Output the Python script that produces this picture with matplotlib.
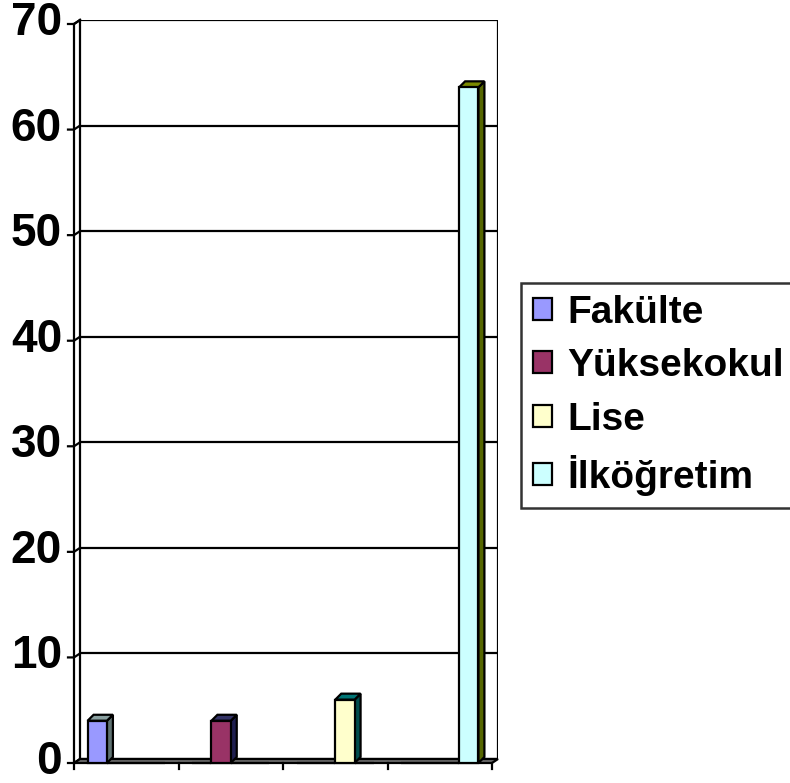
import matplotlib
matplotlib.use("Agg")
import matplotlib.pyplot as plt
from matplotlib.patches import Polygon, Patch

plt.rcParams['font.family'] = ['Liberation Sans', 'DejaVu Sans']

# ---- data ----
series_names = ["Fakülte", "Yüksekokul", "Lise", "İlköğretim"]
fakulte = [4, 0, 0, 0]
yuksekokul = [0, 4, 0, 0]
lise = [0, 0, 6, 0]
ilkogretim = [0, 0, 0, 64]
y_ticks = [0, 10, 20, 30, 40, 50, 60, 70]

series_values = [fakulte, yuksekokul, lise, ilkogretim]
front_colors = ["#9999FF", "#993366", "#FFFFCC", "#CCFFFF"]
top_colors = ["#8AA0A0", "#333366", "#007575", "#7A8A00"]
side_colors = ["#5F7272", "#1F1F50", "#004D4D", "#556600"]

W, H = 790, 783
fig = plt.figure(figsize=(W / 100, H / 100), dpi=100)
# axes = back wall of 3D chart
left_px, right_px, top_px, bot_px = 80, 498, 20, 759
ax = fig.add_axes([left_px / W, 1 - bot_px / H, (right_px - left_px) / W, (bot_px - top_px) / H])
ncat = 4
ymax = 70
ax.set_xlim(0, ncat)
ax.set_ylim(0, ymax)

# pixel -> data unit conversions
px_x = ncat / (right_px - left_px)
px_y = ymax / (bot_px - top_px)
wall_dx, wall_dy = 6 * px_x, 4 * px_y   # depth of walls/floor
bar_dx, bar_dy = 6 * px_x, 6 * px_y     # depth of bars

for s in ax.spines.values():
    s.set_visible(False)
ax.set_xticks([])
ax.set_yticks([])

lw = 1.6
# back wall gridlines
for t in y_ticks:
    ax.plot([0, ncat], [t, t], color="black", lw=lw, solid_capstyle="butt", zorder=1)
# right edge of back wall
ax.plot([ncat, ncat], [0, ymax], color="black", lw=lw, zorder=1)
# left wall
fx, fy = -wall_dx, -wall_dy
ax.plot([0, 0], [0, ymax], color="black", lw=lw, clip_on=False, zorder=1)
ax.plot([fx, fx], [fy, ymax + fy], color="black", lw=lw, clip_on=False, zorder=1)
ax.plot([fx, 0], [ymax + fy, ymax], color="black", lw=lw, clip_on=False, zorder=1)
# ticks + connectors + labels
for t in y_ticks:
    ax.plot([fx - 6 * px_x, fx, 0], [t + fy, t + fy, t], color="black", lw=lw,
            clip_on=False, zorder=1)
    ax.text(fx - 12 * px_x, t + fy + 1 * px_y, str(t), ha="right", va="center",
            fontsize=33, fontweight="bold")
# floor
floor = Polygon([[fx, fy], [ncat + fx, fy], [ncat, 0], [0, 0]], closed=True,
                facecolor="#6E6E6E", edgecolor="black", lw=lw, clip_on=False, zorder=2)
ax.add_patch(floor)
# x ticks at front floor edge
for c in range(ncat + 1):
    ax.plot([c + fx, c + fx], [fy, fy - 6 * px_y], color="black", lw=lw, clip_on=False, zorder=2)

# bars
bw = 0.185
start = 0.13
handles = []
for i, (vals, fc, tc, sc) in enumerate(zip(series_values, front_colors, top_colors, side_colors)):
    for c, v in enumerate(vals):
        if v <= 0:
            continue
        x0 = c + start + i * bw + fx
        x1 = x0 + bw
        y0 = fy
        y1 = fy + v
        # side
        ax.add_patch(Polygon([[x1, y0], [x1 + bar_dx, y0 + bar_dy], [x1 + bar_dx, y1 + bar_dy], [x1, y1]],
                             closed=True, facecolor=sc, edgecolor="black", lw=lw, clip_on=False, zorder=3))
        # top
        ax.add_patch(Polygon([[x0, y1], [x1, y1], [x1 + bar_dx, y1 + bar_dy], [x0 + bar_dx, y1 + bar_dy]],
                             closed=True, facecolor=tc, edgecolor="black", lw=lw, clip_on=False, zorder=3))
    # front faces via bar
    xs = [c + start + i * bw + fx for c in range(ncat)]
    ax.bar(xs, vals, width=bw, bottom=fy, align="edge", color=fc, edgecolor="black",
           lw=lw, clip_on=False, zorder=4)
    handles.append(Patch(facecolor=fc, edgecolor="black", lw=lw, label=series_names[i]))

leg = fig.legend(handles=handles, loc="upper left", bbox_to_anchor=(521 / W, 1 - 283 / H),
                 borderaxespad=0, frameon=True, fancybox=False, edgecolor="black",
                 prop={"size": 28, "weight": "bold"}, handlelength=0.5, handleheight=0.5,
                 handletextpad=0.4, labelspacing=0.45, borderpad=0.3)
leg.get_frame().set_linewidth(1.8)

fig.savefig("out.png", dpi=100, facecolor="white")
